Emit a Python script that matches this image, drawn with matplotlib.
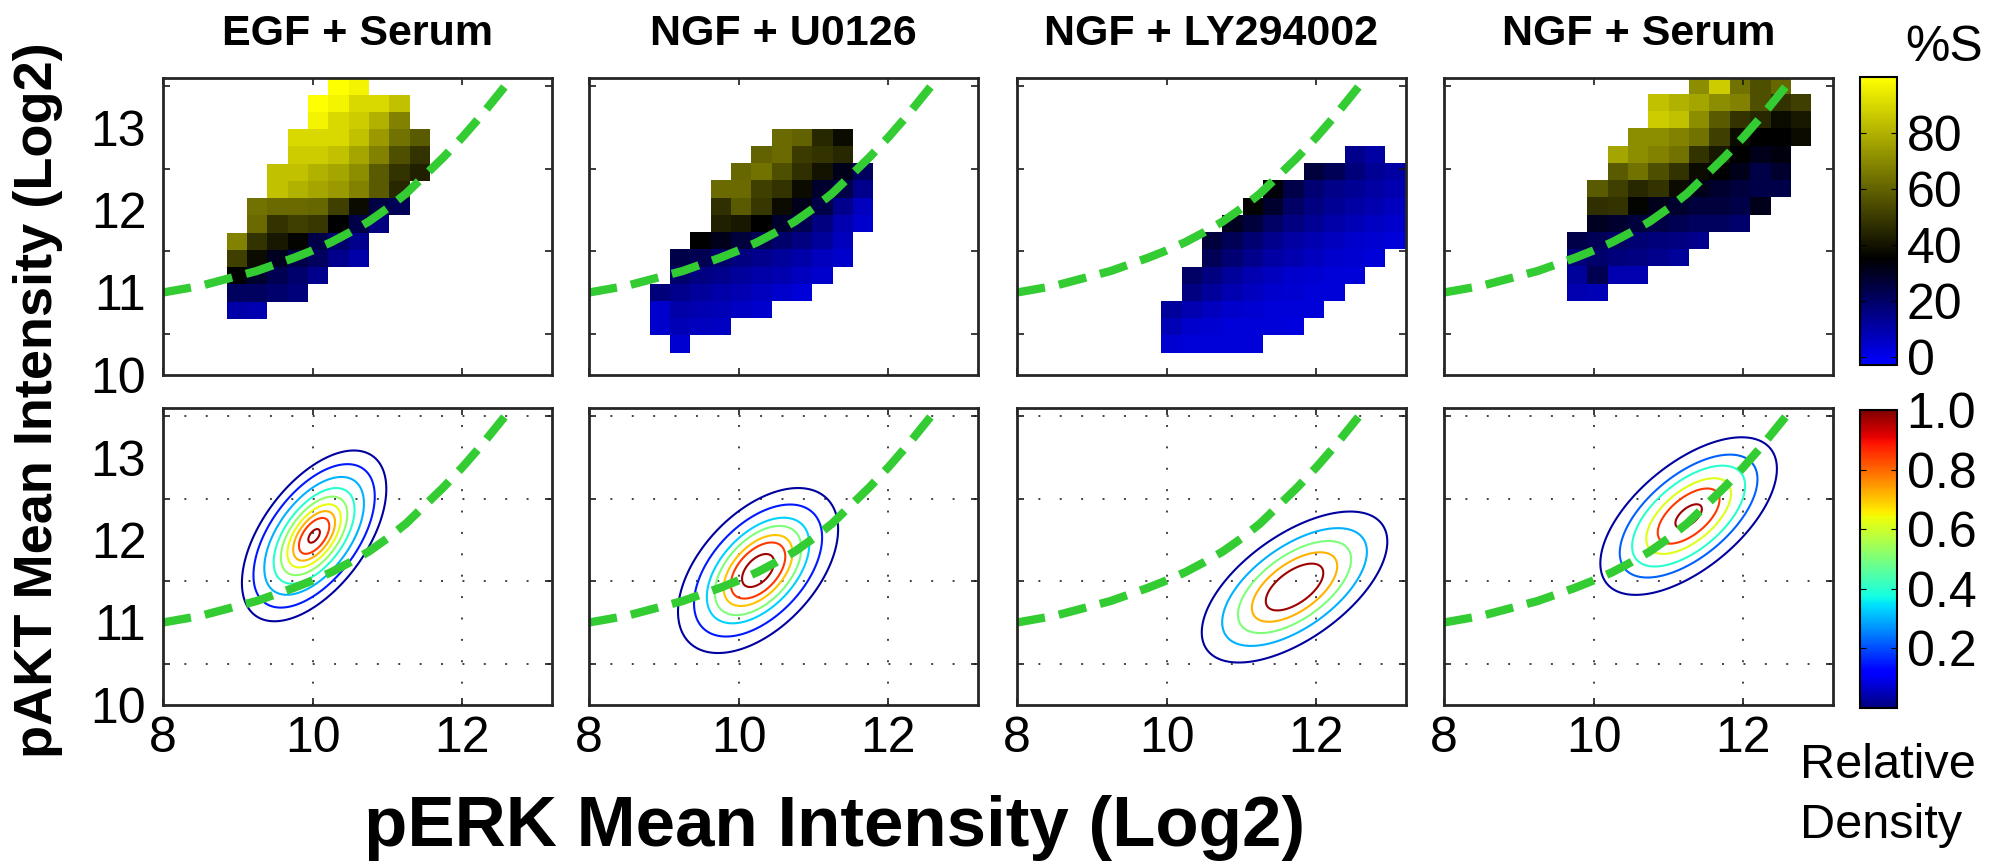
import numpy as np
import matplotlib.pyplot as plt
from matplotlib.colors import LinearSegmentedColormap, Normalize
from matplotlib.cm import ScalarMappable

plt.rcParams['font.family'] = ['Liberation Sans', 'DejaVu Sans']

titles = ["EGF + Serum", "NGF + U0126", "NGF + LY294002", "NGF + Serum"]

# threshold curve (pERK, pAKT)
curve_x = [8.0, 8.25, 8.5, 8.75, 9.0, 9.25, 9.5, 9.75, 10.0, 10.25, 10.5,
           10.75, 11.0, 11.25, 11.5, 11.75, 12.0, 12.25, 12.5, 12.75, 13.0]
curve_y = [11.00, 11.04, 11.08, 11.14, 11.20, 11.26, 11.34, 11.42, 11.51, 11.61, 11.73,
           11.86, 12.02, 12.20, 12.42, 12.64, 12.88, 13.14, 13.42, 13.70, 14.00]

# %S heat maps: bin size and lower-left corner of the first bin
bin_w = 0.272
bin_h = 0.209
bin_x0 = [8.85, 8.81, 9.93, 9.645]
bin_y0 = [10.68, 10.27, 10.27, 10.90]

# rows from the bottom: first filled column, then %S values
egf_serum_start = [0, 0, 0, 0, 0, 1, 1, 2, 2, 3, 3, 4, 4, 5]
egf_serum_pct = [
    [10, 9],
    [21, 21, 19, 17],
    [35, 28, 23, 19, 14],
    [51, 38, 30, 24, 21, 14, 10],
    [68, 48, 41, 36, 24, 19, 14],
    [62, 48, 51, 49, 35, 24, 16],
    [64, 62, 62, 61, 51, 38, 25, 22],
    [84, 80, 77, 74, 68, 58, 45],
    [84, 84, 80, 77, 71, 58, 48, 43],
    [87, 87, 84, 77, 68, 55, 48],
    [90, 90, 90, 84, 74, 64, 58],
    [97, 90, 87, 80, 68],
    [100, 97, 90, 90, 84],
    [100, 97],
]

ngf_u0126_start = [1, 0, 0, 0, 1, 1, 2, 3, 3, 3, 4, 5, 6]
ngf_u0126_pct = [
    [4],
    [5, 8, 7, 6],
    [5, 10, 9, 8, 6, 5],
    [17, 14, 12, 10, 9, 7, 5, 3],
    [19, 16, 14, 12, 10, 9, 7, 5],
    [24, 23, 19, 16, 14, 12, 10, 7, 5],
    [35, 31, 26, 23, 19, 16, 12, 7],
    [43, 41, 35, 28, 23, 16, 9, 5],
    [47, 58, 49, 38, 31, 24, 14, 7],
    [62, 62, 51, 48, 38, 28, 24, 14],
    [61, 64, 55, 47, 40, 31, 21],
    [60, 62, 50, 48, 45],
    [62, 60, 45, 38],
]

ngf_ly_start = [0, 0, 0, 1, 1, 2, 2, 3, 4, 5, 7, 9]
ngf_ly_pct = [
    [4, 3, 3, 3, 3],
    [8, 5, 4, 3, 3, 3, 2],
    [12, 9, 7, 5, 4, 3, 3, 3],
    [16, 12, 9, 7, 5, 4, 3, 3],
    [20, 16, 12, 9, 7, 5, 4, 3, 3],
    [22, 18, 14, 11, 9, 7, 5, 4, 3],
    [26, 22, 18, 14, 11, 9, 7, 5, 4, 3],
    [30, 26, 20, 16, 13, 10, 8, 6, 5],
    [36, 28, 20, 16, 13, 11, 9, 7],
    [34, 24, 18, 15, 13, 11, 9],
    [26, 22, 17, 13, 11],
    [14, 11],
]

ngf_serum_start = [0, 0, 0, 0, 1, 1, 1, 2, 2, 3, 4, 4, 6]
ngf_serum_pct = [
    [9, 8],
    [12, 23, 9, 9],
    [17, 19, 17, 16, 14, 12],
    [24, 22, 20, 18, 17, 16, 14],
    [30, 28, 26, 24, 23, 21, 21, 19],
    [47, 48, 36, 31, 28, 26, 26, 24, 31],
    [58, 51, 45, 48, 38, 31, 28, 26, 24, 24],
    [58, 64, 55, 48, 38, 35, 31, 24, 28],
    [77, 71, 68, 64, 48, 41, 35, 31, 33],
    [71, 71, 68, 64, 51, 38, 35, 35, 38],
    [87, 84, 71, 58, 48, 45, 38, 41],
    [84, 80, 77, 71, 68, 55, 48, 51],
    [71, 87, 64, 55, 61],
]

heat_start = [egf_serum_start, ngf_u0126_start, ngf_ly_start, ngf_serum_start]
heat_pct = [egf_serum_pct, ngf_u0126_pct, ngf_ly_pct, ngf_serum_pct]

# density contours: centre, half extent of the outer contour, tilt
dens_cx = [10.02, 10.26, 11.71, 11.27]
dens_cy = [12.05, 11.63, 11.43, 12.29]
dens_hx = [0.965, 1.07, 1.24, 1.18]
dens_hy = [1.035, 1.00, 0.915, 0.955]
dens_rho = [0.55, 0.50, 0.60, 0.60]
# each contour: size relative to the outer one, and its relative density
ring_size = [
    [1.0, 0.84, 0.69, 0.56, 0.46, 0.37, 0.29, 0.21, 0.08],
    [1.0, 0.80, 0.64, 0.54, 0.43, 0.34, 0.20],
    [1.0, 0.78, 0.61, 0.46, 0.31],
    [1.0, 0.78, 0.64, 0.48, 0.35, 0.15],
]
ring_density = [
    [0.03, 0.15, 0.30, 0.40, 0.52, 0.63, 0.72, 0.85, 0.97],
    [0.03, 0.15, 0.33, 0.50, 0.70, 0.85, 0.97],
    [0.03, 0.30, 0.50, 0.72, 0.97],
    [0.03, 0.22, 0.40, 0.62, 0.85, 0.97],
]

W, H = 1999, 866
fig = plt.figure(figsize=(W / 100, H / 100), dpi=100)


def px_axes(left, top, width, height):
    return fig.add_axes([left / W, 1 - (top + height) / H, width / W, height / H])


pct_cmap = LinearSegmentedColormap.from_list(
    "pct", [(0.0, (0, 0, 1)), (38 / 103, (0, 0, 0)), (1.0, (1, 1, 0))])
pct_norm = Normalize(-3, 100)
green = "#33cc33"
col_left = [163, 589, 1017, 1444]
ax_w, ax_h = 389, 297
tick_fs = 36


def style_axes(ax, first_col, bottom_row):
    ax.set_xlim(8, 13.2)
    ax.set_ylim(10, 13.6)
    ax.set_xticks([8, 10, 12])
    ax.set_yticks([10, 11, 12, 13])
    ax.set_yticks([10.5, 11.5, 12.5, 13.5], minor=True)
    ax.tick_params(which="both", direction="in", top=True, right=True,
                   labelsize=tick_fs, width=1.2, color="0.1")
    ax.tick_params(axis="x", which="major", length=5, pad=8)
    ax.tick_params(axis="y", which="major", length=0, pad=12)
    ax.tick_params(axis="y", which="minor", length=5)
    ax.tick_params(axis="x", which="minor", length=0)
    if not first_col:
        ax.set_yticklabels([])
    if not bottom_row:
        ax.set_xticklabels([])
    for sp in ax.spines.values():
        sp.set_linewidth(2)
        sp.set_color("0.15")


for i in range(4):
    # top row: %S heat map
    ax = px_axes(col_left[i], 78, ax_w, ax_h)
    starts, rows = heat_start[i], heat_pct[i]
    ncol = max(s + len(r) for s, r in zip(starts, rows))
    grid = np.full((len(rows), ncol), np.nan)
    for k, (s, r) in enumerate(zip(starts, rows)):
        grid[k, s:s + len(r)] = r
    xe = bin_x0[i] + bin_w * np.arange(ncol + 1)
    ye = bin_y0[i] + bin_h * np.arange(len(rows) + 1)
    ax.pcolormesh(xe, ye, np.ma.masked_invalid(grid), cmap=pct_cmap,
                  norm=pct_norm, edgecolors="none", antialiased=False)
    ax.plot(curve_x, curve_y, color=green, lw=6, dashes=(3.4, 1.7),
            dash_capstyle="butt")
    ax.set_title(titles[i], fontsize=31, fontweight="bold", pad=24)
    style_axes(ax, i == 0, False)

    # bottom row: relative density contours
    ax = px_axes(col_left[i], 408, ax_w, ax_h)
    gx = np.linspace(8, 13.2, 400)
    gy = np.linspace(10, 13.6, 400)
    X, Y = np.meshgrid(gx, gy)
    u = (X - dens_cx[i]) / dens_hx[i]
    v = (Y - dens_cy[i]) / dens_hy[i]
    r = dens_rho[i]
    D = np.sqrt((u ** 2 - 2 * r * u * v + v ** 2) / (1 - r ** 2))
    pairs = sorted(zip(ring_size[i], ring_density[i]))
    ax.contour(X, Y, D, levels=[p[0] for p in pairs],
               colors=[plt.cm.jet(p[1]) for p in pairs], linewidths=1.5)
    ax.set_yticks([10.5, 11.5, 12.5, 13.5], minor=True)
    ax.grid(True, which="minor", axis="y", color="0.25", lw=1.4,
            linestyle=(0, (1, 10)))
    ax.grid(True, which="major", axis="x", color="0.25", lw=1.4,
            linestyle=(0, (1, 10)))
    ax.plot(curve_x, curve_y, color=green, lw=6, dashes=(3.4, 1.7),
            dash_capstyle="butt")
    style_axes(ax, i == 0, True)

# colour bars
cax = px_axes(1860, 77, 37, 288)
cb = fig.colorbar(ScalarMappable(pct_norm, pct_cmap), cax=cax, ticks=[0, 20, 40, 60, 80])
cb.ax.tick_params(labelsize=tick_fs, direction="in", length=4, pad=7, left=True)
cb.outline.set_linewidth(1.5)

cax2 = px_axes(1860, 410, 37, 298)
cb2 = fig.colorbar(ScalarMappable(Normalize(0, 1), plt.cm.jet), cax=cax2,
                   ticks=[0.2, 0.4, 0.6, 0.8, 1.0])
cb2.ax.set_yticklabels(["0.2", "0.4", "0.6", "0.8", "1.0"])
cb2.ax.tick_params(labelsize=tick_fs, direction="in", length=4, pad=7, left=True)
cb2.outline.set_linewidth(1.5)

fig.text(1944 / W, 1 - 48 / H, "%S", ha="center", va="center", fontsize=tick_fs)
fig.text(1800 / W, 1 - 766 / H, "Relative", ha="left", va="center", fontsize=35)
fig.text(1800 / W, 1 - 826 / H, "Density", ha="left", va="center", fontsize=35)

fig.text(38 / W, 1 - 400 / H, "pAKT Mean Intensity (Log2)", rotation=90,
         ha="center", va="center", fontsize=39, fontweight="bold")
fig.text(835 / W, 1 - 828 / H, "pERK Mean Intensity (Log2)",
         ha="center", va="center", fontsize=51, fontweight="bold")

fig.savefig("out.png", dpi=100)
